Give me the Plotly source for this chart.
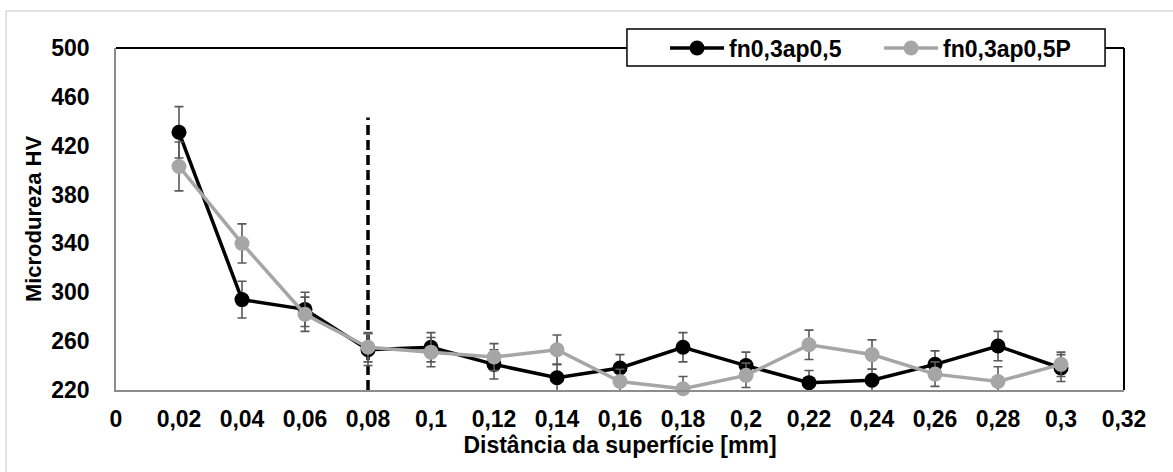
import plotly.graph_objects as go

# Distance from the machined surface (mm)
distance = [0.02, 0.04, 0.06, 0.08, 0.10, 0.12, 0.14, 0.16, 0.18, 0.20, 0.22, 0.24, 0.26, 0.28, 0.30]

# Microhardness profile, fn0,3ap0,5
hv_a = [431, 294, 286, 253, 255, 241, 230, 238, 255, 240, 226, 228, 241, 256, 238]
err_a = [21, 15, 14, 13, 12, 12, 11, 11, 12, 11, 10, 9, 11, 12, 11]

# Microhardness profile, fn0,3ap0,5P
hv_b = [403, 340, 282, 255, 251, 247, 253, 227, 221, 232, 257, 249, 233, 227, 241]
err_b = [20, 16, 14, 12, 12, 11, 12, 10, 10, 10, 12, 12, 10, 12, 10]

# Affected-layer limit marker
limit_x = [0.08, 0.08]
limit_y = [220, 443]

x_ticks = [0, 0.02, 0.04, 0.06, 0.08, 0.10, 0.12, 0.14, 0.16, 0.18, 0.20, 0.22, 0.24, 0.26, 0.28, 0.30, 0.32]
x_tick_text = ["0", "0,02", "0,04", "0,06", "0,08", "0,1", "0,12", "0,14", "0,16", "0,18",
               "0,2", "0,22", "0,24", "0,26", "0,28", "0,3", "0,32"]
y_ticks = [220, 260, 300, 340, 380, 420, 460, 500]

FONT = "Liberation Sans, Arial, sans-serif"
BLACK = "#000000"
GREY = "#A6A6A6"
ERR = "#595959"


def bold(size):
    return dict(family=FONT, size=size, color=BLACK, weight="bold")


fig = go.Figure()

fig.add_trace(go.Scatter(
    x=limit_x, y=limit_y, mode="lines", showlegend=False, hoverinfo="skip",
    line=dict(color=BLACK, width=3.5, dash="10px,5px"),
))

fig.add_trace(go.Scatter(
    x=distance, y=hv_a, name="fn0,3ap0,5", mode="lines+markers",
    line=dict(color=BLACK, width=3.5),
    marker=dict(color=BLACK, size=15),
    error_y=dict(type="data", array=err_a, visible=True, color=ERR, thickness=1.6, width=4.5),
    cliponaxis=False,
))

fig.add_trace(go.Scatter(
    x=distance, y=hv_b, name="fn0,3ap0,5P", mode="lines+markers",
    line=dict(color=GREY, width=3.5),
    marker=dict(color=GREY, size=15),
    error_y=dict(type="data", array=err_b, visible=True, color=ERR, thickness=1.6, width=4.5),
    cliponaxis=False,
))

fig.update_layout(
    width=1173, height=472,
    margin=dict(l=116, r=49, t=48, b=82, autoexpand=False),
    paper_bgcolor="white", plot_bgcolor="white",
    font=bold(23),
    showlegend=True,
    legend=dict(
        orientation="h", x=0.5447, xanchor="left", y=1.0, yanchor="middle",
        bgcolor="rgba(0,0,0,0)", borderwidth=0,
        font=bold(23),
        entrywidth=145, itemwidth=54,
    ),
    xaxis=dict(
        range=[0, 0.32], tickvals=x_ticks, ticktext=x_tick_text,
        showgrid=False, zeroline=False, showline=True, linecolor="#8C8C8C", linewidth=2,
        ticks="", ticklabelstandoff=7,
        tickfont=bold(23),
        title=dict(text="Distância da superfície [mm]", standoff=4, font=bold(23)),
    ),
    yaxis=dict(
        range=[220, 500], tickvals=y_ticks,
        showgrid=False, zeroline=False, showline=True, linecolor="#8C8C8C", linewidth=1.5,
        ticks="", ticklabelstandoff=20,
        tickfont=bold(23),
        title=dict(text="Microdureza HV", standoff=4, font=bold(22)),
    ),
    shapes=[
        # plot-area frame, top and right edges
        dict(type="line", xref="paper", yref="paper", x0=0, x1=1, y0=1, y1=1,
             line=dict(color=BLACK, width=2), layer="below"),
        dict(type="line", xref="paper", yref="paper", x0=1, x1=1, y0=0, y1=1,
             line=dict(color=BLACK, width=2), layer="below"),
        # chart-area border
        dict(type="rect", xref="paper", yref="paper", x0=-0.109, x1=1.2, y0=-0.4, y1=1.108,
             line=dict(color="#D9D9D9", width=1.5), layer="below"),
        # legend frame
        dict(type="rect", xref="paper", yref="paper", x0=0.5069, x1=0.9812, y0=0.9474, y1=1.0556,
             fillcolor="white", line=dict(color=BLACK, width=1.5), layer="above"),
    ],
)

fig.write_html("out.html")
